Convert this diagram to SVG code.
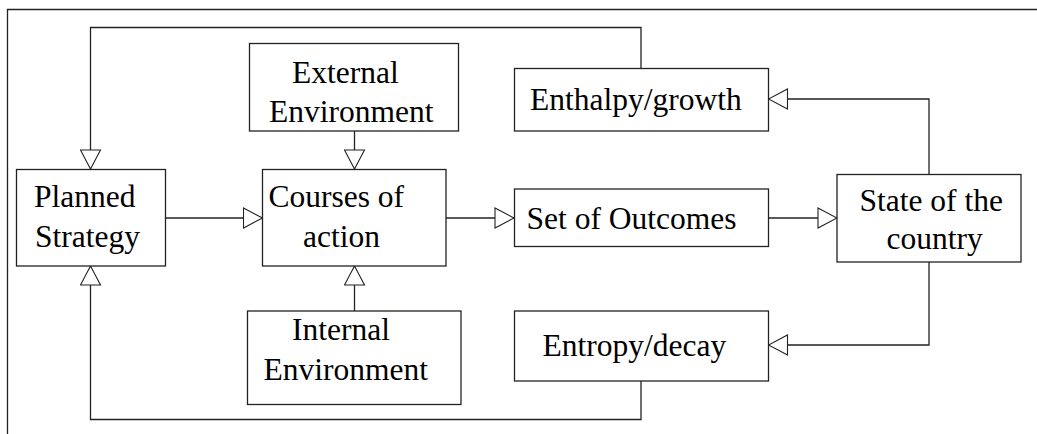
<svg xmlns="http://www.w3.org/2000/svg" width="1037" height="434" viewBox="0 0 1037 434">
<style>
.box{fill:#fff;stroke:#222;stroke-width:1.3}
.ln{fill:none;stroke:#222;stroke-width:1.3}
.ar{marker-end:url(#tri)}
text{font-family:'Liberation Serif','Times New Roman',serif;font-size:31.5px;fill:#000}
</style>
<defs>
<marker id="tri" viewBox="-1 -1 21 22" refX="19" refY="10" markerWidth="21" markerHeight="22" markerUnits="userSpaceOnUse" orient="auto">
<path d="M0,0 L19,10 L0,20 Z" fill="#fff" stroke="#222" stroke-width="1.1"/>
</marker>
</defs>
<rect width="1037" height="434" fill="#fff"/>
<path class="ln" d="M7.5,434 V9.5 H1037" stroke-width="1.6"/>
<g id="connectors">
<path class="ln ar" d="M641,68 V27.5 H90.5 V169"/>
<path class="ln ar" d="M641,381 V419.5 H90.5 V266"/>
<path class="ln ar" d="M165,218 H262.5"/>
<path class="ln ar" d="M446,218 H514"/>
<path class="ln ar" d="M768.5,218 H837"/>
<path class="ln ar" d="M354.5,131 V169"/>
<path class="ln ar" d="M354.5,311 V266"/>
<path class="ln ar" d="M929,174 V99 H768.5"/>
<path class="ln ar" d="M929,262 V345 H768.5"/>
</g>
<g id="planned">
<rect class="box" x="16.5" y="169.5" width="149" height="96.5"/>
<text x="34" y="207">Planned</text>
<text x="35" y="247">Strategy</text>
</g>
<g id="external">
<rect class="box" x="249.5" y="43.5" width="209" height="87.5"/>
<text x="292" y="83">External</text>
<text x="269" y="122">Environment</text>
</g>
<g id="courses">
<rect class="box" x="262.5" y="169.5" width="183.5" height="96.5"/>
<text x="268.5" y="207">Courses of</text>
<text x="303" y="247">action</text>
</g>
<g id="internal">
<rect class="box" x="247.5" y="311" width="213.5" height="93.5"/>
<text x="292" y="339.5">Internal</text>
<text x="263.5" y="380">Environment</text>
</g>
<g id="enthalpy">
<rect class="box" x="514.5" y="68.5" width="254" height="62.5"/>
<text x="530" y="110">Enthalpy/growth</text>
</g>
<g id="outcomes">
<rect class="box" x="514.5" y="189" width="254" height="57.5"/>
<text x="526.5" y="228.5">Set of Outcomes</text>
</g>
<g id="entropy">
<rect class="box" x="514.5" y="311" width="254" height="70"/>
<text x="542.5" y="356">Entropy/decay</text>
</g>
<g id="state">
<rect class="box" x="837" y="174.5" width="184" height="87.5"/>
<text x="859.5" y="211">State of the</text>
<text x="886.5" y="248.5">country</text>
</g>
</svg>
